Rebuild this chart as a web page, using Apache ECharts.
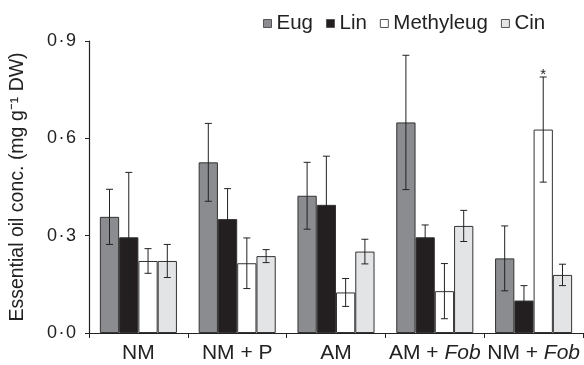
<!DOCTYPE html>
<html><head><meta charset="utf-8">
<script src="https://cdn.jsdelivr.net/npm/echarts@6/dist/echarts.min.js"></script>
<style>html,body{margin:0;padding:0;background:#fff}#c{width:584px;height:365px}</style>
</head><body><div id="c"></div>
<script>
var categories = ['NM', 'NM + P', 'AM', 'AM + Fob', 'NM + Fob'];
var seriesNames = ['Eug', 'Lin', 'Methyleug', 'Cin'];
var eug = [0.358, 0.526, 0.423, 0.649, 0.230];
var lin = [0.295, 0.351, 0.395, 0.295, 0.100];
var methyleug = [0.222, 0.215, 0.125, 0.129, 0.627];
var cin = [0.222, 0.237, 0.251, 0.330, 0.179];
var eugErr = [0.085, 0.120, 0.103, 0.207, 0.100];
var linErr = [0.200, 0.094, 0.150, 0.038, 0.046];
var methyleugErr = [0.038, 0.078, 0.043, 0.085, 0.162];
var cinErr = [0.051, 0.020, 0.038, 0.048, 0.033];
var methyleugSig = ['', '', '', '', '*'];
var yTicks = [0, 0.3, 0.6, 0.9];

var values = [eug, lin, methyleug, cin];
var errs = [eugErr, linErr, methyleugErr, cinErr];
var sigs = [null, null, methyleugSig, null];
var colors = ['#8b8c8f', '#231f20', '#ffffff', '#e3e4e6'];
var catGap = 0.22;
var FONT = 'Liberation Sans, Arial, Helvetica, sans-serif';

var series = [];
values.forEach(function (v, i) {
  series.push({
    name: seriesNames[i], type: 'bar', data: v,
    barGap: '0%', barCategoryGap: (catGap * 100) + '%',
    itemStyle: { color: colors[i], borderColor: '#333', borderWidth: 1 },
    z: 2
  });
});
values.forEach(function (v, i) {
  var data = v.map(function (val, k) { return [k, val, errs[i][k]]; });
  series.push({
    type: 'custom', z: 5, silent: true,
    data: data,
    renderItem: function (params, api) {
      var k = api.value(0), val = api.value(1), e = api.value(2);
      var w = api.size([1, 0])[0];
      var bw = w * (1 - catGap) / 4;
      var c = api.coord([k, val]);
      var x = c[0] - w * (1 - catGap) / 2 + (i + 0.5) * bw;
      var yTop = api.coord([k, val + e])[1];
      var yBot = api.coord([k, Math.max(0, val - e)])[1];
      var cap = 3.5;
      var st = { stroke: '#222', lineWidth: 1 };
      var children = [
        { type: 'line', shape: { x1: x, y1: yTop, x2: x, y2: yBot }, style: st },
        { type: 'line', shape: { x1: x - cap, y1: yTop, x2: x + cap, y2: yTop }, style: st },
        { type: 'line', shape: { x1: x - cap, y1: yBot, x2: x + cap, y2: yBot }, style: st }
      ];
      var s = sigs[i] ? sigs[i][k] : '';
      if (s) {
        children.push({ type: 'text', style: { text: s, x: x, y: yTop + 5, align: 'center', verticalAlign: 'bottom', fill: '#222', font: '15px ' + FONT } });
      }
      return { type: 'group', children: children };
    }
  });
});

var chart = echarts.init(document.getElementById('c'));
chart.setOption({
  animation: false,
  textStyle: { fontFamily: FONT },
  legend: {
    data: seriesNames, top: 8, left: 258,
    itemWidth: 8, itemHeight: 8, itemGap: 13,
    icon: 'rect',
    itemStyle: { borderColor: '#555', borderWidth: 1 },
    textStyle: { fontSize: 20.5, color: '#222', padding: [0, 0, 0, 0] }
  },
  grid: { left: 86, right: 1, top: 41, bottom: 32 },
  xAxis: {
    type: 'category', data: categories,
    axisLine: { lineStyle: { color: '#222', width: 1.2 } },
    axisTick: { show: true, length: 5, lineStyle: { color: '#222' } },
    axisLabel: {
      interval: 0,
      fontSize: 21, color: '#222', margin: 10,
      formatter: function (v) {
        var m = v.match(/^(.*)Fob$/);
        if (m) return m[1] + '{i|Fob}';
        return v;
      },
      rich: { i: { fontStyle: 'italic', fontSize: 21, color: '#222' } }
    }
  },
  yAxis: {
    type: 'value', min: 0, max: 0.9, interval: 0.3,
    name: 'Essential oil conc. (mg g\u207B\u00B9 DW)',
    nameLocation: 'middle', nameGap: 61, nameRotate: 90,
    nameTextStyle: { fontSize: 19.5, color: '#222' },
    splitLine: { show: false },
    axisLine: { show: true, lineStyle: { color: '#222', width: 1.2 } },
    axisTick: { show: true, length: 4, lineStyle: { color: '#222' } },
    axisLabel: {
      fontSize: 18, color: '#222', margin: 13,
      formatter: function (v) {
        var t = yTicks.find(function (y) { return Math.abs(y - v) < 1e-9; });
        if (t === undefined) return '';
        var s = t.toFixed(1).split('.');
        return s[0] + '\u200A\u00B7\u200A' + s[1];
      }
    }
  },
  series: series
});
</script></body></html>
